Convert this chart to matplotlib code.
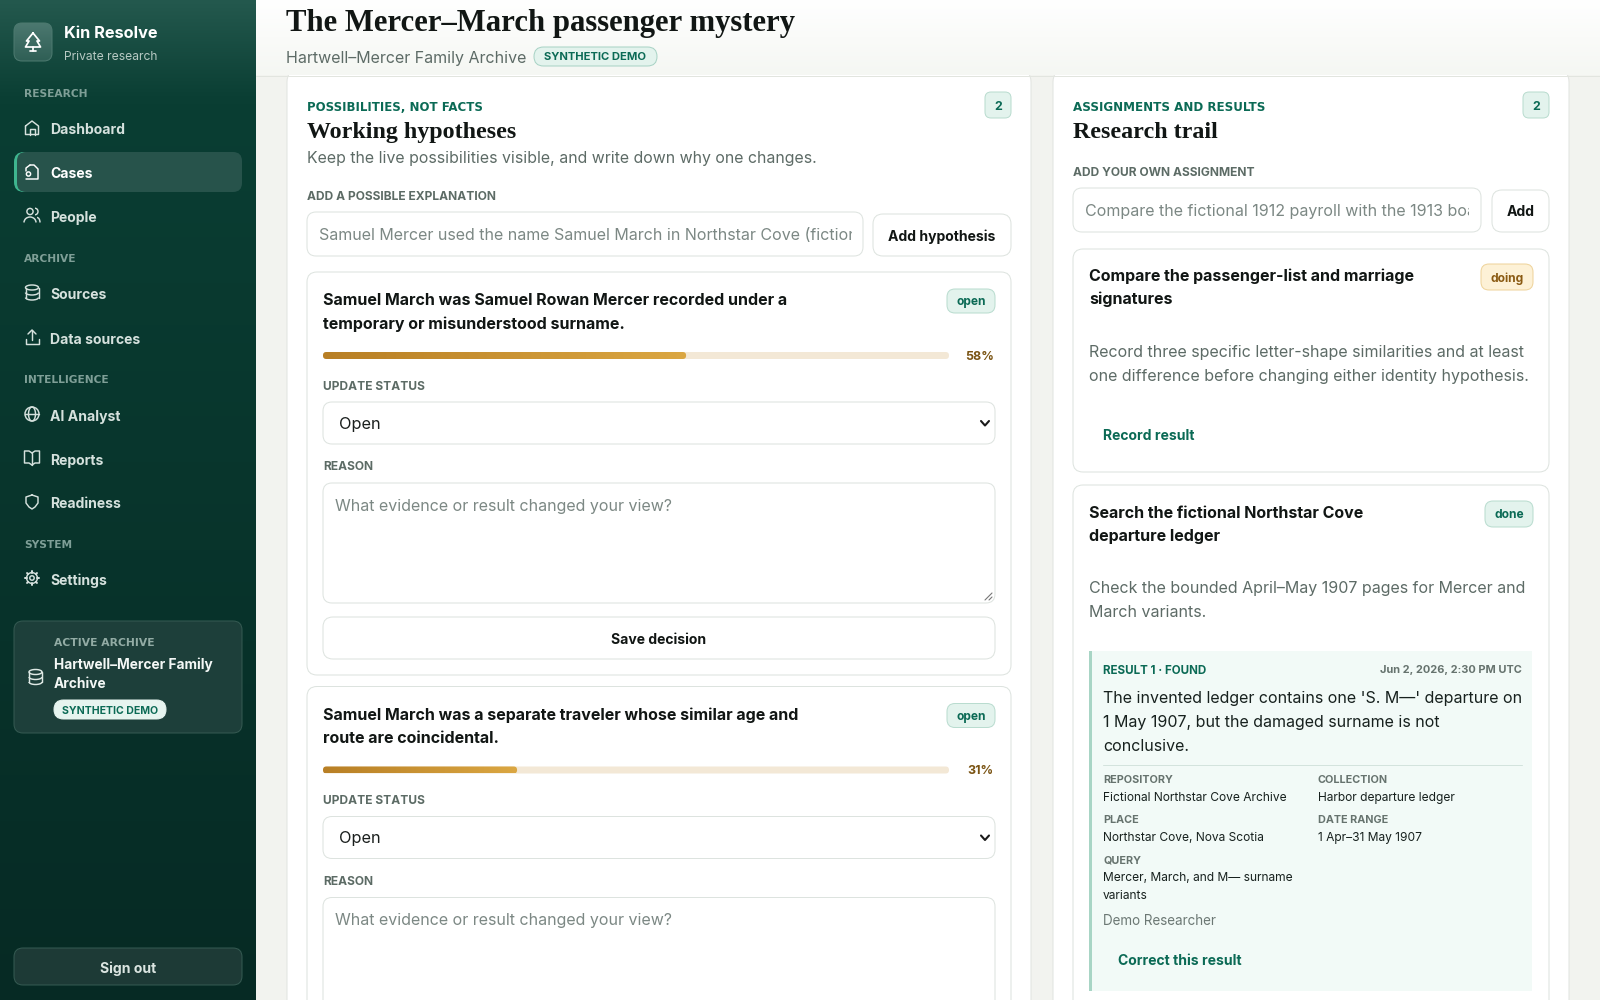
import numpy as np
import matplotlib
matplotlib.use('Agg')
from matplotlib import pyplot as plt
from matplotlib.colors import LinearSegmentedColormap
from matplotlib.patches import FancyBboxPatch, Rectangle, Circle, Arc

# sidebar content
NAV_SECTIONS = [
    ('RESEARCH', 93, [('Dashboard', 129, 'home'), ('Cases', 173, 'file'), ('People', 216.5, 'people')]),
    ('ARCHIVE', 258, [('Sources', 293.5, 'db'), ('Data sources', 338, 'upload')]),
    ('INTELLIGENCE', 379, [('AI Analyst', 415, 'globe'), ('Reports', 459, 'book'), ('Readiness', 503, 'shield')]),
    ('SYSTEM', 544, [('Settings', 579, 'gear')]),
]
ACTIVE_NAV = 'Cases'

# hypothesis cards
HYPOTHESIS_TITLES = [
    ['Samuel March was Samuel Rowan Mercer recorded under a', 'temporary or misunderstood surname.'],
    ['Samuel March was a separate traveler whose similar age and', 'route are coincidental.'],
]
HYPOTHESIS_PCT = [58, 31]
HYPOTHESIS_TOP = [272, 686.5]

# result metadata
RESULT_META = [
    ('REPOSITORY', ['Fictional Northstar Cove Archive'], 0, 779),
    ('COLLECTION', ['Harbor departure ledger'], 1, 779),
    ('PLACE', ['Northstar Cove, Nova Scotia'], 0, 819),
    ('DATE RANGE', ['1 Apr\u201331 May 1907'], 1, 819),
    ('QUERY', ['Mercer, March, and M\u2014 surname', 'variants'], 0, 859),
]

GREEN = '#0b6a55'
MUTED = '#5d6b66'
LABEL = '#5c6b65'
INK = '#111614'
LINE = '#dde3df'
SANS = ['Inter', 'DejaVu Sans']
SERIF = ['Liberation Serif', 'DejaVu Serif']
WIDE = ['DejaVu Sans']
PX = 0.72

fig = plt.figure(figsize=(16, 10), dpi=100)
ax = fig.add_axes([0, 0, 1, 1])
ax.set_xlim(0, 1600)
ax.set_ylim(1000, 0)
ax.axis('off')
ax.set_autoscale_on(False)


def box(x0, y0, x1, y1, r=10, fc='white', ec=LINE, lw=PX, z=2):
    p = FancyBboxPatch((x0 + r, y0 + r), x1 - x0 - 2 * r, y1 - y0 - 2 * r,
                       boxstyle='round,pad=%g,rounding_size=%g' % (r, r),
                       fc=fc, ec=ec, lw=lw, zorder=z)
    ax.add_patch(p)
    return p


def txt(x, y, s, px=16, weight='normal', color=INK, ha='left', family=None, clip=None):
    t = ax.text(x, y, s, fontsize=px * PX, fontweight=weight, color=color, ha=ha,
                va='center_baseline', family=family or SANS, zorder=6)
    if clip is not None:
        t.set_clip_path(Rectangle((clip[0], clip[1]), clip[2] - clip[0], clip[3] - clip[1],
                                  transform=ax.transData))
        t.set_clip_on(True)
    return t


def gradient(x0, y0, x1, y1, colors, horizontal=False, z=1, clip=None):
    g = np.linspace(0, 1, 256)
    g = g[None, :] if horizontal else g[:, None]
    cmap = LinearSegmentedColormap.from_list('g', colors)
    im = ax.imshow(g, extent=(x0, x1, y1, y0), cmap=cmap, aspect='auto', zorder=z)
    if clip is not None:
        im.set_clip_path(clip)
    return im


def ln(xs, ys, color, lw=1.2, z=6):
    ax.plot(xs, ys, color=color, lw=lw, zorder=z, solid_capstyle='round', solid_joinstyle='round')


def icon(kind, cx, cy, c):
    # little line icons, roughly 16 px
    lw = 1.05
    if kind == 'home':
        ln([cx - 6.5, cx, cx + 6.5, cx + 6.5, cx - 6.5, cx - 6.5], [cy - 2, cy - 7, cy - 2, cy + 6.5, cy + 6.5, cy - 2], c, lw)
        ln([cx - 2.5, cx - 2.5, cx + 2.5, cx + 2.5], [cy + 6.5, cy + 1, cy + 1, cy + 6.5], c, lw)
    elif kind == 'file':
        ln([cx - 2, cx + 2, cx + 6, cx + 6, cx - 6], [cy - 7, cy - 7, cy - 3, cy + 7, cy + 7], c, lw)
        ln([cx - 6, cx - 6, cx - 2], [cy - 1, cy - 4, cy - 7], c, lw)
        ax.add_patch(Circle((cx - 3.5, cy + 2), 2.1, fc='none', ec=c, lw=lw, zorder=6))
    elif kind == 'people':
        ax.add_patch(Circle((cx - 2, cy - 4), 3.1, fc='none', ec=c, lw=lw, zorder=6))
        ax.add_patch(Arc((cx - 2, cy + 7), 12, 11, theta1=180, theta2=360, ec=c, lw=lw, zorder=6))
        ax.add_patch(Arc((cx + 3, cy - 4), 6, 6.5, theta1=270, theta2=90, ec=c, lw=lw, zorder=6))
        ax.add_patch(Arc((cx + 5, cy + 7), 6, 10, theta1=270, theta2=360, ec=c, lw=lw, zorder=6))
    elif kind == 'db':
        ax.add_patch(Arc((cx, cy - 5), 13, 5, ec=c, lw=lw, zorder=6))
        ax.add_patch(Arc((cx, cy), 13, 5, theta1=0, theta2=180, ec=c, lw=lw, zorder=6))
        ax.add_patch(Arc((cx, cy + 5), 13, 5, theta1=0, theta2=180, ec=c, lw=lw, zorder=6))
        ln([cx - 6.5, cx - 6.5], [cy - 5, cy + 5], c, lw)
        ln([cx + 6.5, cx + 6.5], [cy - 5, cy + 5], c, lw)
    elif kind == 'upload':
        ln([cx - 6.5, cx - 6.5, cx + 6.5, cx + 6.5], [cy + 2, cy + 6.5, cy + 6.5, cy + 2], c, lw)
        ln([cx, cx], [cy + 3, cy - 7], c, lw)
        ln([cx - 4, cx, cx + 4], [cy - 3, cy - 7, cy - 3], c, lw)
    elif kind == 'globe':
        ax.add_patch(Circle((cx, cy), 7, fc='none', ec=c, lw=lw, zorder=6))
        ax.add_patch(Arc((cx, cy), 7, 14, ec=c, lw=lw, zorder=6))
        ln([cx - 7, cx + 7], [cy, cy], c, lw)
    elif kind == 'book':
        ln([cx, cx - 3, cx - 7.5, cx - 7.5, cx - 3, cx], [cy - 5, cy - 7, cy - 7, cy + 5, cy + 5, cy + 7], c, lw)
        ln([cx, cx + 3, cx + 7.5, cx + 7.5, cx + 3, cx], [cy - 5, cy - 7, cy - 7, cy + 5, cy + 5, cy + 7], c, lw)
        ln([cx, cx], [cy - 5, cy + 7], c, lw)
    elif kind == 'shield':
        ln([cx, cx + 6, cx + 6, cx + 3, cx, cx - 3, cx - 6, cx - 6, cx],
           [cy - 7, cy - 5, cy + 1, cy + 5, cy + 7, cy + 5, cy + 1, cy - 5, cy - 7], c, lw)
    elif kind == 'gear':
        ax.add_patch(Circle((cx, cy), 2.2, fc='none', ec=c, lw=lw, zorder=6))
        ax.add_patch(Circle((cx, cy), 5.4, fc='none', ec=c, lw=lw, zorder=6))
        for a in np.deg2rad(np.arange(0, 360, 45)):
            ln([cx + 5.4 * np.cos(a), cx + 7 * np.cos(a)], [cy + 5.4 * np.sin(a), cy + 7 * np.sin(a)], c, lw + 0.4)


def pill(x0, y0, x1, y1, s, fc='#e3f3ed', ec='#b9dccf', color=GREEN, px=12, r=None):
    box(x0, y0, x1, y1, r=r if r is not None else (y1 - y0) / 2 - 0.01, fc=fc, ec=ec, z=4)
    txt((x0 + x1) / 2, (y0 + y1) / 2, s, px, 'bold', color, ha='center')


def button(x0, y0, x1, y1, s, px=14):
    box(x0, y0, x1, y1, r=10, z=3)
    txt((x0 + x1) / 2, (y0 + y1) / 2, s, px, 'bold', INK, ha='center')


def chevron(cx, cy):
    ln([cx - 4, cx, cx + 4], [cy - 2, cy + 2.5, cy - 2], '#1a1a1a', 1.5)


# page background
ax.add_patch(Rectangle((256, 0), 1344, 1000, fc='#f2f3ef', ec='none', zorder=0))

# sidebar
gradient(0, 0, 256, 100, ['#24594e', '#0a3e33'])
gradient(0, 100, 256, 1000, ['#0a3e33', '#062a24'])

logo = box(14, 23, 52, 61, r=8, fc='none', ec='#4d7a70', z=3)
gradient(14, 23, 52, 61, ['#4c7870', '#2f5f55'], z=2, clip=logo)
ln([33, 26.5, 29, 25.5, 40.5, 37, 39.5, 33], [33, 41, 41, 47, 47, 41, 41, 33], 'white', 1.25)
ln([33, 33], [47, 51], 'white', 1.25)
ln([30, 36], [51, 51], 'white', 1.25)
txt(64, 32, 'Kin Resolve', 16.3, 'bold', 'white')
txt(64, 55, 'Private research', 12.1, 'normal', '#b7c9c3')

for section, sy, items in NAV_SECTIONS:
    txt(24, sy, section, 10.6, 'bold', '#7f9f97', family=WIDE)
    for name, y, ic in items:
        active = name == ACTIVE_NAV
        if active:
            box(14, y - 21, 60, y + 19, r=10, fc='#3fb58f', ec='none', z=2)
            box(17, y - 21, 242, y + 19, r=9, fc='#27534b', ec='none', z=3)
        c = 'white' if active else '#d5e1dd'
        icon(ic, 32, y - 1, c)
        txt(50, y, name, 14, 'bold', c)

box(14, 621, 242, 733, r=9, fc='#1d3f3a', ec='#355a52')
icon('db', 35.5, 677, '#dfe9e5')
txt(54, 642, 'ACTIVE ARCHIVE', 10.7, 'bold', '#93aca5', family=WIDE)
txt(54, 663, 'Hartwell\u2013Mercer Family', 13.7, 'bold', '#f3f7f5')
txt(54, 682, 'Archive', 13.7, 'bold', '#f3f7f5')
pill(54, 700, 166, 719, 'SYNTHETIC DEMO', fc='#e6f4ef', ec='#e6f4ef', px=10.5)
box(14, 948, 242, 985, r=9, fc='#1d3a36', ec='#355a52')
txt(128, 967, 'Sign out', 14, 'bold', '#dbe5e1', ha='center')

# header
gradient(256, 0, 1600, 75, ['#ffffff', '#f5f7f3'], z=7)
ln([256, 1600], [75.5, 75.5], '#e2e5df', 0.72, z=8)
for t in [txt(286, 20, 'The Mercer\u2013March passenger mystery', 30.8, 'bold', '#111614', family=SERIF),
          txt(286, 57, 'Hartwell\u2013Mercer Family Archive', 16, 'normal', MUTED)]:
    t.set_zorder(9)
box(534, 47, 657, 66, r=9.49, fc='#e3f3ed', ec='#a8d3c5', z=8)
txt(595.5, 56.5, 'SYNTHETIC DEMO', 11.2, 'bold', GREEN, ha='center').set_zorder(9)

# left column
box(287, 70, 1031, 1040, r=12, fc='white', ec='#e1e4e0', z=1)
txt(307, 106, 'POSSIBILITIES, NOT FACTS', 11.8, 'bold', GREEN, family=WIDE)
pill(985, 92, 1011, 118, '2', r=6, px=12.5)
txt(307, 130, 'Working hypotheses', 24, 'bold', INK, family=SERIF)
txt(307, 157, 'Keep the live possibilities visible, and write down why one changes.', 15.9, 'normal', MUTED)
txt(307, 195, 'ADD A POSSIBLE EXPLANATION', 12, 'bold', LABEL)
box(307, 212, 863, 256, r=9)
txt(319, 234, 'Samuel Mercer used the name Samuel March in Northstar Cove (fiction', 16, 'normal', '#7c8884',
    clip=(315, 212, 852, 256))
button(873, 214, 1011, 256, 'Add hypothesis')

for title, pct, top in zip(HYPOTHESIS_TITLES, HYPOTHESIS_PCT, HYPOTHESIS_TOP):
    box(307, top, 1011, top + 403, r=10, z=2)
    txt(323, top + 27, title[0], 16, 'bold', INK)
    txt(323, top + 50.5, title[1], 16, 'bold', INK)
    pill(947, top + 17, 995, top + 41, 'open', r=8)
    # progress bar
    box(323, top + 80, 949, top + 87, r=3.4, fc='#f3e8d6', ec='none', z=3)
    fill = box(323, top + 80, 323 + 626 * pct / 100, top + 87, r=3.4, fc='none', ec='none', z=4)
    gradient(323, top + 80, 323 + 626 * pct / 100, top + 87, ['#b87f25', '#dba742'], horizontal=True, z=4, clip=fill)
    txt(994, top + 83.5, '%d%%' % pct, 12.5, 'bold', '#7a5413', ha='right')
    txt(323, top + 113, 'UPDATE STATUS', 12, 'bold', LABEL)
    box(323, top + 130, 995, top + 172, r=9, z=3)
    txt(339, top + 151, 'Open', 16.3, 'normal', '#1a1f1d')
    chevron(985, top + 151)
    txt(323, top + 194, 'REASON', 12, 'bold', LABEL)
    box(323, top + 211, 995, top + 331, r=9, z=3)
    txt(335, top + 233, 'What evidence or result changed your view?', 16, 'normal', '#7c8884')
    # the second card runs past the bottom of the window
    if top + 345 < 1000:
        ln([985, 992], [top + 328, top + 321], '#777777', 0.8)
        ln([989, 992], [top + 328, top + 325], '#777777', 0.8)
        box(323, top + 345, 995, top + 387, r=10, z=3)
        txt(659, top + 366, 'Save decision', 14, 'bold', INK, ha='center')

# right column
box(1053, 70, 1569, 1040, r=12, fc='white', ec='#e1e4e0', z=1)
txt(1073, 106, 'ASSIGNMENTS AND RESULTS', 11.85, 'bold', GREEN, family=WIDE)
pill(1523, 92, 1549, 118, '2', r=6, px=12.5)
txt(1073, 130, 'Research trail', 24, 'bold', INK, family=SERIF)
txt(1073, 172, 'ADD YOUR OWN ASSIGNMENT', 12, 'bold', LABEL)
box(1073, 188, 1481, 232, r=9)
txt(1085, 210, 'Compare the fictional 1912 payroll with the 1913 board', 16, 'normal', '#7c8884',
    clip=(1080, 188, 1469, 232))
button(1492, 190, 1549, 232, 'Add')

box(1073, 249, 1549, 472, r=10, z=2)
txt(1089, 275, 'Compare the passenger-list and marriage', 16, 'bold', INK)
txt(1089, 298, 'signatures', 16, 'bold', INK)
pill(1481, 264, 1533, 290, 'doing', fc='#fdf1d6', ec='#eed39a', color='#8a5a12', r=8)
txt(1089, 351, 'Record three specific letter-shape similarities and at least', 16, 'normal', MUTED)
txt(1089, 375, 'one difference before changing either identity hypothesis.', 16, 'normal', MUTED)
txt(1103, 435, 'Record result', 14, 'bold', GREEN)

box(1073, 485, 1549, 1040, r=10, z=2)
txt(1089, 512, 'Search the fictional Northstar Cove', 16, 'bold', INK)
txt(1089, 535, 'departure ledger', 16, 'bold', INK)
pill(1485, 501, 1533, 527, 'done', r=8)
txt(1089, 587, 'Check the bounded April\u2013May 1907 pages for Mercer and', 16, 'normal', MUTED)
txt(1089, 611, 'March variants.', 16, 'normal', MUTED)

# result box
ax.add_patch(Rectangle((1089, 651), 443, 340, fc='#f2faf7', ec='none', zorder=3))
ax.add_patch(Rectangle((1089, 651), 3, 340, fc='#a8d5c5', ec='none', zorder=4))
txt(1103, 669, 'RESULT 1 \u00b7 FOUND', 11.6, 'bold', GREEN)
txt(1522, 669, 'Jun 2, 2026, 2:30 PM UTC', 11, 'bold', '#66736e', ha='right')
txt(1103, 697, "The invented ledger contains one 'S. M\u2014' departure on", 16, 'normal', '#17211e')
txt(1103, 721, '1 May 1907, but the damaged surname is not', 16, 'normal', '#17211e')
txt(1103, 745, 'conclusive.', 16, 'normal', '#17211e')
ln([1103, 1522], [764.5, 764.5], '#d3e3dd', 0.72)
for name, values, col, y in RESULT_META:
    x = 1318 if col else 1103
    txt(x, y, name, 10.8, 'bold', '#66736e')
    for i, v in enumerate(values):
        txt(x, y + 17.6 * (i + 1), v, 12, 'normal', '#17211e')
txt(1103, 919.5, 'Demo Researcher', 13.5, 'normal', '#6c7874')
txt(1118, 959.5, 'Correct this result', 14, 'bold', GREEN)

fig.savefig('out.png', dpi=100)
